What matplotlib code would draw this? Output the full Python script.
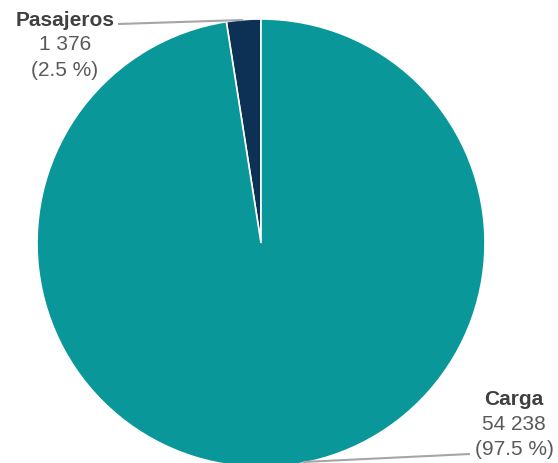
import matplotlib
matplotlib.use("Agg")
import matplotlib.pyplot as plt

categories = ["Pasajeros", "Carga"]
values = [1376, 54238]
percent_labels = ["(2.5 %)", "(97.5 %)"]
value_labels = ["1 376", "54 238"]
colors = ["#0c3155", "#099799"]

W, H = 558, 464
fig = plt.figure(figsize=(W / 100, H / 100), dpi=100)
ax = fig.add_axes([0, 0, 1, 1])

cx, cy, r = 261, 244, 224
# y axis is inverted below, so start at -90 (visual top) and run so the
# first slice lies just left of the top
wedges, _ = ax.pie(values, colors=colors, startangle=-90, counterclock=False,
                   center=(cx, cy), radius=r,
                   wedgeprops=dict(edgecolor="white", linewidth=1.2))
ax.set_xlim(0, W)
ax.set_ylim(H, 0)
ax.set_aspect("equal")
ax.axis("off")

font = "Liberation Sans"
# Pasajeros label
ax.plot([118, 243], [25, 21], color="#a6a6a6", lw=1.5, solid_capstyle="butt")
ax.text(65, 20, categories[0], ha="center", va="center", fontsize=15,
        fontweight="bold", color="#404040", family=font)
ax.text(65, 45, value_labels[0], ha="center", va="center", fontsize=15,
        color="#595959", family=font)
ax.text(65, 70, percent_labels[0], ha="center", va="center", fontsize=15,
        color="#595959", family=font)

# Carga label
ax.plot([470, 303], [455, 463], color="#a6a6a6", lw=1.5, solid_capstyle="butt")
ax.text(514, 400, categories[1], ha="center", va="center", fontsize=15,
        fontweight="bold", color="#404040", family=font)
ax.text(514, 425, value_labels[1], ha="center", va="center", fontsize=15,
        color="#595959", family=font)
ax.text(514, 450, percent_labels[1], ha="center", va="center", fontsize=15,
        color="#595959", family=font)

fig.savefig("out.png", dpi=100)
